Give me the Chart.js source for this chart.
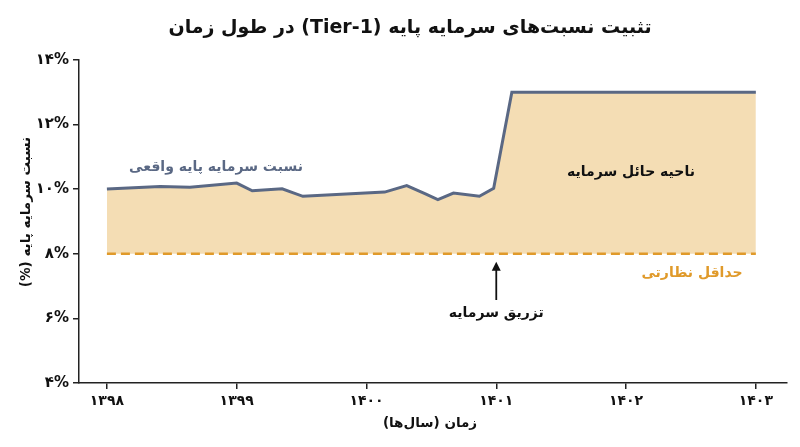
<!DOCTYPE html>
<html>
<head>
<meta charset="utf-8">
<script src="https://cdn.jsdelivr.net/npm/chart.js@4.4.1/dist/chart.umd.min.js"></script>
<style>
html,body{margin:0;padding:0;background:#fff;}
#wrap{width:800px;height:447px;position:relative;}
</style>
</head>
<body>
<div id="wrap"><canvas id="c"></canvas></div>
<script>
const actualYears  = [1398.0, 1398.41, 1398.64, 1399.0, 1399.12, 1399.35, 1399.51, 1400.14, 1400.31, 1400.45, 1400.55, 1400.67, 1400.87, 1400.98, 1401.12, 1403.0];
const actualValues = [10.01, 10.08, 10.06, 10.19, 9.95, 10.01, 9.78, 9.91, 10.11, 9.86, 9.68, 9.88, 9.78, 10.03, 13.0, 13.0];
const minYears = [1398, 1403];
const minValues = [8, 8];
const xTickValues = [1398, 1399, 1400, 1401, 1402, 1403];
const xTickLabels = ['۱۳۹۸', '۱۳۹۹', '۱۴۰۰', '۱۴۰۱', '۱۴۰۲', '۱۴۰۳'];
const yTickValues = [4, 6, 8, 10, 12, 14];
const yTickLabels = ['۴%', '۶%', '۸%', '۱۰%', '۱۲%', '۱۴%'];
const injectionYear = 1401;

const FONT = "'DejaVu Sans', 'Noto Sans', sans-serif";
const lineColor = '#5a6884';
const fillColor = '#f4ddb4';
const minColor = '#e09a2a';

const textPlugin = {
  id: 'texts',
  afterDraw(chart) {
    const ctx = chart.ctx;
    const xs = chart.scales.x, ys = chart.scales.y;
    ctx.save();
    ctx.direction = 'rtl';
    ctx.textAlign = 'center';
    ctx.textBaseline = 'middle';
    // title
    ctx.fillStyle = '#111';
    ctx.font = 'bold 19px ' + FONT;
    ctx.fillText('تثبیت نسبت‌های سرمایه پایه (Tier-1) در طول زمان', 410, 28);
    // axis titles
    ctx.font = 'bold 13.5px ' + FONT;
    ctx.fillText('زمان (سال‌ها)', 430, 423);
    ctx.save();
    ctx.translate(26, 212);
    ctx.rotate(-Math.PI / 2);
    ctx.fillText('نسبت سرمایه پایه (%)', 0, 0);
    ctx.restore();
    // series label
    ctx.fillStyle = lineColor;
    ctx.font = 'bold 14px ' + FONT;
    ctx.fillText('نسبت سرمایه پایه واقعی', 216, 167);
    // buffer zone
    ctx.fillStyle = '#111';
    ctx.font = 'bold 14px ' + FONT;
    ctx.fillText('ناحیه حائل سرمایه', 631, 172);
    // min label
    ctx.fillStyle = minColor;
    ctx.font = 'bold 14px ' + FONT;
    ctx.fillText('حداقل نظارتی', 692, 273);
    // arrow
    const ax = xs.getPixelForValue(injectionYear);
    const tipY = ys.getPixelForValue(8) + 8;
    ctx.strokeStyle = '#111';
    ctx.fillStyle = '#111';
    ctx.lineWidth = 1.8;
    ctx.beginPath();
    ctx.moveTo(ax, 300);
    ctx.lineTo(ax, tipY + 6);
    ctx.stroke();
    ctx.beginPath();
    ctx.moveTo(ax, tipY);
    ctx.lineTo(ax - 4.5, tipY + 9);
    ctx.lineTo(ax + 4.5, tipY + 9);
    ctx.closePath();
    ctx.fill();
    ctx.font = 'bold 14px ' + FONT;
    ctx.fillText('تزریق سرمایه', ax, 313);
    ctx.restore();
  }
};

new Chart(document.getElementById('c'), {
  type: 'line',
  data: {
    datasets: [
      {
        data: actualYears.map((x, i) => ({x, y: actualValues[i]})),
        borderColor: lineColor,
        borderWidth: 3,
        backgroundColor: fillColor,
        fill: {value: 8},
        pointRadius: 0,
        tension: 0,
        order: 2
      },
      {
        data: minYears.map((x, i) => ({x, y: minValues[i]})),
        borderColor: minColor,
        borderWidth: 2.5,
        borderDash: [9, 5],
        fill: false,
        pointRadius: 0,
        order: 1
      }
    ]
  },
  options: {
    responsive: true,
    maintainAspectRatio: false,
    animation: false,
    layout: {padding: {top: 60, right: 13, left: 0, bottom: 0}},
    plugins: {legend: {display: false}, tooltip: {enabled: false}},
    scales: {
      x: {
        type: 'linear',
        min: 1397.785,
        max: 1403.24,
        afterBuildTicks: s => { s.ticks = xTickValues.map(v => ({value: v})); },
        afterFit: s => { s.height = 64; },
        ticks: {
          callback: v => xTickLabels[xTickValues.indexOf(v)],
          font: {family: FONT, size: 14, weight: 'bold'},
          color: '#111',
          padding: 4,
          maxRotation: 0
        },
        grid: {drawOnChartArea: false, drawTicks: true, tickLength: 6, color: '#222', lineWidth: 1.5},
        border: {color: '#222', width: 1.5}
      },
      y: {
        min: 4,
        max: 14,
        afterBuildTicks: s => { s.ticks = yTickValues.map(v => ({value: v})); },
        afterFit: s => { s.width = 79; },
        ticks: {
          callback: v => yTickLabels[yTickValues.indexOf(v)],
          font: {family: FONT, size: 15, weight: 'bold'},
          color: '#111',
          padding: 4
        },
        grid: {drawOnChartArea: false, drawTicks: true, tickLength: 6, color: '#222', lineWidth: 1.5},
        border: {color: '#222', width: 1.5}
      }
    }
  },
  plugins: [textPlugin]
});
</script>
</body>
</html>
